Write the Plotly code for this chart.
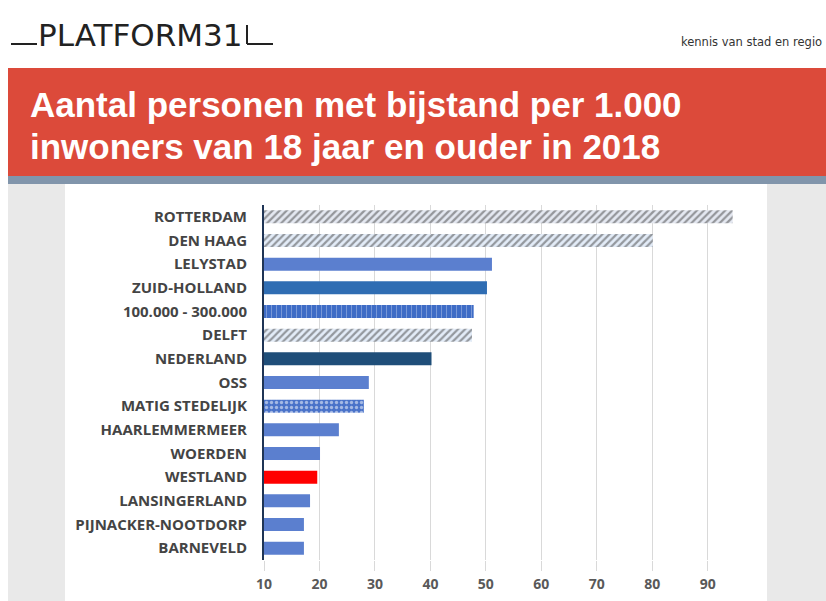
import plotly.graph_objects as go

# ---- data (top to bottom) ----
categories = ["ROTTERDAM", "DEN HAAG", "LELYSTAD", "ZUID-HOLLAND", "100.000 - 300.000",
              "DELFT", "NEDERLAND", "OSS", "MATIG STEDELIJK", "HAARLEMMERMEER",
              "WOERDEN", "WESTLAND", "LANSINGERLAND", "PIJNACKER-NOOTDORP", "BARNEVELD"]
values = [94.5, 80.1, 51.1, 50.2, 47.8, 47.5, 40.2, 28.9, 28.0, 23.5, 20.1, 19.6, 18.3, 17.2, 17.2]
x_ticks = [10, 20, 30, 40, 50, 60, 70, 80, 90]
axis_start = 10

bar_colors = ["#e4e8f1", "#e3ecf8", "#5b7fcf", "#2f6db3", "#3e6cc6",
              "#e3ecf8", "#1f4e79", "#5b7fcf", "#4a73c9", "#5b7fcf",
              "#5b7fcf", "#ff0000", "#5b7fcf", "#5b7fcf", "#5b7fcf"]
pattern_shapes = ["/", "/", "", "", "|", "/", "", "", ".", "", "", "", "", "", ""]
pattern_fg = ["#7a88a8", "#94b1e2", "#5b7fcf", "#2f6db3", "#6688d4",
              "#94b1e2", "#1f4e79", "#5b7fcf", "#86a0dc", "#5b7fcf",
              "#5b7fcf", "#ff0000", "#5b7fcf", "#5b7fcf", "#5b7fcf"]
pattern_solidity = [0.45, 0.45, 0.3, 0.3, 0.12, 0.45, 0.3, 0.3, 0.35, 0.3, 0.3, 0.3, 0.3, 0.3, 0.3]

W, H = 826, 601
L, R, T, B = 264, 85, 205, 41
pw, ph = W - L - R, H - T - B


def px(x):
    return (x - L) / pw


def py(y):
    return 1 - (y - T) / ph


fig = go.Figure(go.Bar(
    x=[v - axis_start for v in values], y=categories, orientation="h", base=axis_start,
    marker=dict(color=bar_colors, line=dict(width=0),
                pattern=dict(shape=pattern_shapes, fgcolor=pattern_fg,
                             size=5, solidity=pattern_solidity)),
    width=0.55, hoverinfo="y",
))

shapes = [
    dict(type="rect", xref="paper", yref="paper", x0=px(8), x1=px(826), y0=py(183), y1=py(601),
         fillcolor="#e9e9e9", line=dict(width=0), layer="below"),
    dict(type="rect", xref="paper", yref="paper", x0=px(65), x1=px(767), y0=py(183), y1=py(601),
         fillcolor="#ffffff", line=dict(width=0), layer="below"),
    dict(type="rect", xref="paper", yref="paper", x0=px(8), x1=px(826), y0=py(68), y1=py(176),
         fillcolor="#dc4a3a", line=dict(width=0), layer="below"),
    dict(type="rect", xref="paper", yref="paper", x0=px(8), x1=px(826), y0=py(176), y1=py(184),
         fillcolor="#8195ab", line=dict(width=0), layer="below"),
    dict(type="line", xref="paper", yref="paper", x0=px(11), x1=px(37), y0=py(44), y1=py(44),
         line=dict(color="#222222", width=2)),
    dict(type="line", xref="paper", yref="paper", x0=px(247), x1=px(247), y0=py(25), y1=py(44),
         line=dict(color="#222222", width=2)),
    dict(type="line", xref="paper", yref="paper", x0=px(247), x1=px(273), y0=py(44), y1=py(44),
         line=dict(color="#222222", width=2)),
]

annotations = [
    dict(text="PLATFORM31", xref="paper", yref="paper", x=px(36), y=py(35), xanchor="left",
         yanchor="middle", showarrow=False,
         font=dict(family="DejaVu Sans", size=31, color="#222222")),
    dict(text="kennis van stad en regio", xref="paper", yref="paper", x=px(824), y=py(42),
         xanchor="right", yanchor="middle", showarrow=False,
         font=dict(family="DejaVu Sans", size=11.5, color="#333333")),
    dict(text="<b>Aantal personen met bijstand per 1.000</b>", xref="paper", yref="paper",
         x=px(28), y=py(105), xanchor="left", yanchor="middle", showarrow=False,
         font=dict(family="Liberation Sans", size=35, color="#ffffff")),
    dict(text="<b>inwoners van 18 jaar en ouder in 2018</b>", xref="paper", yref="paper",
         x=px(28), y=py(146), xanchor="left", yanchor="middle", showarrow=False,
         font=dict(family="Liberation Sans", size=35, color="#ffffff")),
]

fig.update_layout(
    width=W, height=H, margin=dict(l=L, r=R, t=T, b=B),
    paper_bgcolor="#ffffff", plot_bgcolor="rgba(0,0,0,0)",
    showlegend=False, shapes=shapes, annotations=annotations,
    xaxis=dict(range=[10, 96], tickvals=x_ticks, showgrid=True, gridcolor="#d9d9d9",
               gridwidth=1, zeroline=False, showline=False, ticks="outside", ticklen=10,
               tickcolor="#d9d9d9", ticklabelstandoff=1, automargin=False,
               ticktext=["<b>%d</b>" % t for t in x_ticks],
               tickfont=dict(family="Open Sans", size=14, color="#595959")),
    yaxis=dict(autorange="reversed", showgrid=False, showline=True, linecolor="#1f3556",
               linewidth=2, ticks="", ticklabelstandoff=12, automargin=False,
               tickvals=categories, ticktext=["<b>" + c + "</b>" for c in categories],
               tickfont=dict(family="Open Sans", size=15, color="#444444")),
    bargap=0.45,
)

fig.write_html("out.html", config={"displayModeBar": False},
               post_script="document.body.style.margin='0';document.body.style.overflow='hidden';")
